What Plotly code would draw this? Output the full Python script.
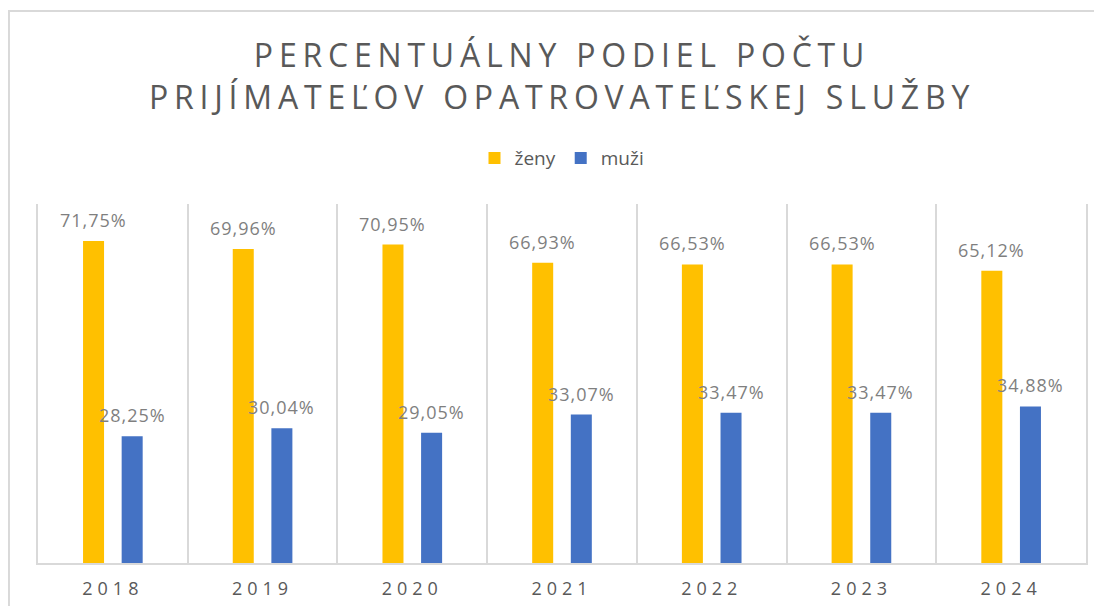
import plotly.graph_objects as go

years = ["2018", "2019", "2020", "2021", "2022", "2023", "2024"]
zeny = [71.75, 69.96, 70.95, 66.93, 66.53, 66.53, 65.12]
muzi = [28.25, 30.04, 29.05, 33.07, 33.47, 33.47, 34.88]
zeny_labels = ["71,75%", "69,96%", "70,95%", "66,93%", "66,53%", "66,53%", "65,12%"]
muzi_labels = ["28,25%", "30,04%", "29,05%", "33,07%", "33,47%", "33,47%", "34,88%"]
title_lines = ["PERCENTUÁLNY PODIEL POČTU", "PRIJÍMATEĽOV OPATROVATEĽSKEJ SLUŽBY"]

YELLOW = "#FFC000"
BLUE = "#4472C4"
GRID = "#D9D9D9"
FONT = "Open Sans"


def spaced(s, px):
    return '<span style="letter-spacing:%spx">%s</span>' % (px, s)


fig = go.Figure()
fig.add_trace(go.Bar(name="ženy", x=years, y=zeny, marker_color=YELLOW,
                     marker_line_width=0, hoverinfo="skip"))
fig.add_trace(go.Bar(name="muži", x=years, y=muzi, marker_color=BLUE,
                     marker_line_width=0, hoverinfo="skip"))

annotations = []
for i, (v, t) in enumerate(zip(zeny, zeny_labels)):
    annotations.append(dict(x=i, y=v, text=spaced(t, 1), xref="x", yref="y", showarrow=False,
                            xanchor="center", yanchor="bottom", xshift=-19.3, yshift=7,
                            font=dict(family=FONT, size=18, color="#7F7F7F")))
for i, (v, t) in enumerate(zip(muzi, muzi_labels)):
    annotations.append(dict(x=i, y=v, text=spaced(t, 1), xref="x", yref="y", showarrow=False,
                            xanchor="center", yanchor="bottom", xshift=19.3, yshift=7,
                            font=dict(family=FONT, size=18, color="#7F7F7F")))

title_text = "<br>".join(spaced(s, 5.8) for s in title_lines)

fig.update_layout(
    width=1094, height=598,
    margin=dict(l=30, r=16, t=196, b=43, autoexpand=False),
    paper_bgcolor="white", plot_bgcolor="white",
    barmode="group", bargap=0.484, bargroupgap=0.456,
    title=dict(text=title_text, x=0.5, xref="paper", xanchor="center",
               y=1 - 59 / 598, yref="container", yanchor="middle",
               font=dict(family=FONT, size=32, color="#595959")),
    showlegend=True,
    legend=dict(orientation="h", x=0.5, xanchor="center", y=1.128, yanchor="middle",
                font=dict(family=FONT, size=19, color="#595959"),
                itemwidth=30, traceorder="normal"),
    xaxis=dict(type="category", range=[-0.5, len(years) - 0.5], tickson="boundaries",
               showgrid=True, gridcolor=GRID, automargin=False,
               gridwidth=2, ticks="", showline=True, linecolor=GRID, linewidth=2,
               tickvals=years, ticklabelstandoff=8,
               ticktext=[spaced(y, 5) for y in years],
               tickfont=dict(family=FONT, size=18, color="#595959")),
    yaxis=dict(range=[0, 80], showgrid=False, zeroline=False, showticklabels=False,
               automargin=False,
               ticks="", showline=True, mirror=True, linecolor=GRID, linewidth=2),
    annotations=annotations,
    shapes=[dict(type="rect", xref="paper", yref="paper", x0=-0.0277, x1=1.03,
                 y0=-0.2, y1=1.5376, line=dict(color=GRID, width=2), layer="below")],
)

fig.write_html("out.html")
